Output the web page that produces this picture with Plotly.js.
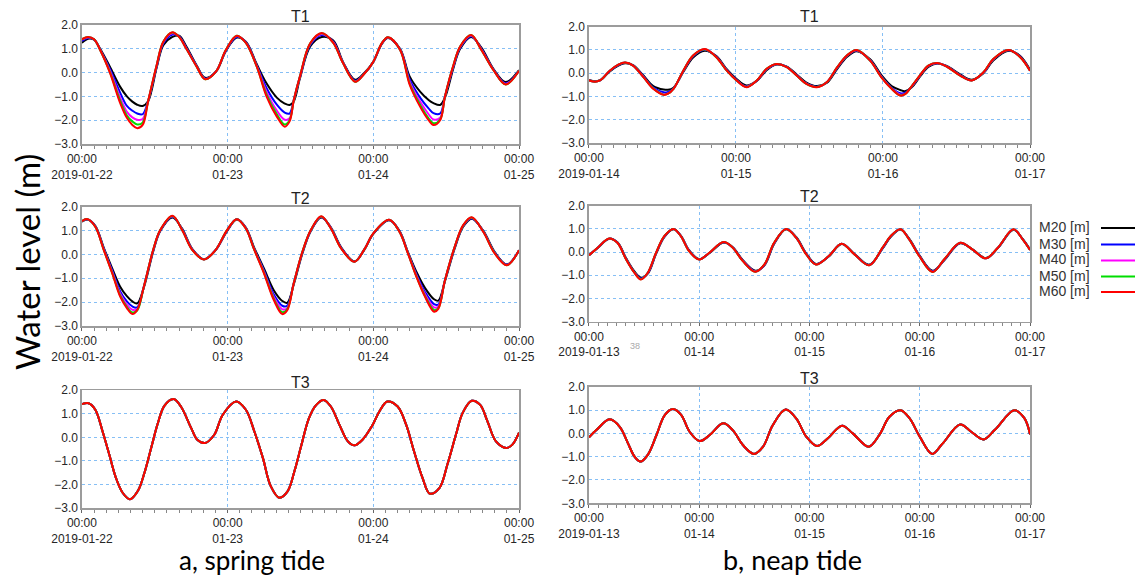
<!DOCTYPE html>
<html>
<head>
<meta charset="utf-8">
<script src="https://cdn.plot.ly/plotly-3.0.1.min.js"></script>
<style>html,body{margin:0;padding:0;background:#fff;}#chart{width:1135px;height:576px;}</style>
</head>
<body>
<div id="chart"></div>
<script>
// ---------- series / labels ----------
const seriesNames = ['M20 [m]', 'M30 [m]', 'M40 [m]', 'M50 [m]', 'M60 [m]'];
const seriesColors = ['#000000', '#0000ff', '#ff00ff', '#00dd00', '#ff0000'];
const panelTitles = ['T1', 'T1', 'T2', 'T2', 'T3', 'T3'];
const yTickVals = [-3, -2, -1, 0, 1, 2];

const springTickVals = [0, 24, 48, 72];
const springTickText = ['00:00<br>2019-01-22', '00:00<br>01-23', '00:00<br>01-24', '00:00<br>01-25'];
const neapT1TickVals = [0, 24, 48, 72];
const neapT1TickText = ['00:00<br>2019-01-14', '00:00<br>01-15', '00:00<br>01-16', '00:00<br>01-17'];
const neapTickVals = [0, 24, 48, 72, 96];
const neapTickText = ['00:00<br>2019-01-13', '00:00<br>01-14', '00:00<br>01-15', '00:00<br>01-16', '00:00<br>01-17'];

// ---------- a, spring tide : T1 (hours from 2019-01-22 00:00) ----------
const aT1_t   = [0,1,2,3,4.6,6.3,7.4,8.3,9.1,10.0,10.9,12.3,13.4,14.9,16.0,17.2,18.9,20.3,22.1,23.7,25.5,27.0,28.8,30.4,32.1,33.4,34.2,34.9,35.9,37.6,39.5,41.4,43.0,45.0,46.5,48.0,49.4,50.4,52.4,54.0,55.7,57.1,57.9,59.0,59.8,61.2,62.3,64.1,65.8,67.8,69.8,72.0];
const aT1_M20 = [1.25,1.42,1.38,1.00,0.25,-0.60,-1.00,-1.22,-1.35,-1.40,-1.20,0.20,1.15,1.50,1.55,1.10,0.30,-0.22,0.05,0.90,1.47,1.30,0.35,-0.45,-1.05,-1.30,-1.36,-1.20,-0.25,1.10,1.50,1.35,0.45,-0.30,-0.02,0.45,1.20,1.45,1.00,-0.17,-0.80,-1.15,-1.28,-1.36,-1.05,0.20,1.00,1.50,1.05,0.15,-0.40,0.10];
const aT1_M30 = [1.33,1.45,1.39,0.97,0.15,-0.85,-1.40,-1.60,-1.72,-1.75,-1.20,0.25,1.22,1.60,1.52,1.04,0.28,-0.25,0.05,0.92,1.50,1.28,0.30,-0.65,-1.35,-1.68,-1.72,-1.15,-0.20,1.16,1.58,1.30,0.43,-0.34,-0.04,0.45,1.22,1.47,0.98,-0.30,-1.05,-1.50,-1.70,-1.72,-1.00,0.26,1.04,1.53,1.00,0.13,-0.45,0.09];
const aT1_M40 = [1.38,1.49,1.40,0.96,0.08,-1.05,-1.65,-1.88,-1.98,-1.95,-1.20,0.29,1.28,1.65,1.51,1.01,0.26,-0.27,0.05,0.94,1.54,1.26,0.27,-0.80,-1.60,-1.98,-1.92,-1.15,-0.18,1.21,1.62,1.27,0.41,-0.37,-0.05,0.46,1.23,1.48,0.97,-0.40,-1.22,-1.75,-1.97,-1.90,-1.00,0.30,1.08,1.56,0.97,0.11,-0.48,0.08];
const aT1_M50 = [1.40,1.50,1.40,0.95,0.03,-1.18,-1.80,-2.05,-2.18,-2.10,-1.20,0.30,1.30,1.68,1.50,1.00,0.25,-0.28,0.05,0.95,1.55,1.25,0.25,-0.92,-1.75,-2.18,-2.00,-1.15,-0.17,1.23,1.65,1.25,0.40,-0.38,-0.05,0.46,1.24,1.49,0.96,-0.47,-1.35,-1.92,-2.13,-1.97,-1.00,0.32,1.10,1.58,0.95,0.10,-0.50,0.08];
const aT1_M60 = [1.40,1.50,1.40,0.95,0.00,-1.28,-1.90,-2.20,-2.34,-2.20,-1.20,0.30,1.30,1.70,1.50,1.00,0.25,-0.28,0.05,0.95,1.55,1.25,0.25,-1.00,-1.85,-2.27,-2.05,-1.15,-0.17,1.23,1.66,1.25,0.40,-0.38,-0.05,0.46,1.24,1.49,0.96,-0.52,-1.43,-2.00,-2.20,-2.00,-1.00,0.32,1.10,1.58,0.95,0.10,-0.50,0.08];

// ---------- a, spring tide : T2 ----------
const aT2_t   = [0,0.9,2.2,3.6,5.0,6.3,7.4,8.3,9.1,10.2,11.8,12.9,14.9,16.5,18.2,20.1,22.0,23.9,25.5,27.0,28.3,30.0,31.6,33.0,33.8,34.9,36.3,37.7,39.4,41.0,42.7,44.9,46.5,48.0,50.6,52.3,53.7,55.1,56.5,58.0,58.7,59.8,61.4,62.8,64.2,66.1,68.0,70.0,72.0];
const aT2_M20 = [1.37,1.46,1.20,0.28,-0.59,-1.35,-1.75,-1.97,-2.05,-1.38,0.18,0.98,1.55,1.08,0.22,-0.20,0.17,0.98,1.46,1.13,0.33,-0.60,-1.50,-1.95,-2.03,-1.25,0.03,0.98,1.55,1.14,0.30,-0.29,0.19,0.86,1.43,0.99,0.10,-0.73,-1.40,-1.88,-1.94,-1.12,0.25,1.16,1.50,1.00,0.10,-0.42,0.17];
const aT2_M30 = [1.38,1.47,1.18,0.24,-0.68,-1.55,-1.97,-2.18,-2.22,-1.35,0.22,1.00,1.58,1.06,0.20,-0.20,0.18,1.00,1.47,1.11,0.28,-0.68,-1.68,-2.15,-2.15,-1.20,0.07,1.00,1.57,1.12,0.28,-0.30,0.20,0.87,1.44,0.97,0.08,-0.83,-1.57,-2.08,-2.10,-1.08,0.29,1.19,1.52,0.98,0.08,-0.43,0.18];
const aT2_M40 = [1.39,1.48,1.17,0.21,-0.74,-1.65,-2.10,-2.32,-2.30,-1.35,0.24,1.01,1.60,1.04,0.19,-0.21,0.18,1.01,1.48,1.10,0.26,-0.74,-1.78,-2.30,-2.25,-1.20,0.09,1.01,1.58,1.11,0.26,-0.31,0.20,0.88,1.45,0.96,0.06,-0.88,-1.66,-2.22,-2.18,-1.08,0.31,1.21,1.54,0.97,0.06,-0.44,0.18];
const aT2_M50 = [1.40,1.48,1.16,0.19,-0.78,-1.72,-2.20,-2.43,-2.35,-1.35,0.25,1.02,1.61,1.03,0.18,-0.21,0.18,1.02,1.48,1.09,0.25,-0.77,-1.85,-2.42,-2.30,-1.20,0.10,1.02,1.59,1.10,0.25,-0.31,0.20,0.88,1.45,0.95,0.05,-0.92,-1.73,-2.33,-2.25,-1.08,0.32,1.22,1.55,0.96,0.05,-0.45,0.18];
const aT2_M60 = [1.40,1.48,1.16,0.18,-0.80,-1.77,-2.25,-2.50,-2.33,-1.35,0.25,1.02,1.62,1.02,0.18,-0.21,0.18,1.02,1.48,1.09,0.25,-0.80,-1.91,-2.50,-2.35,-1.20,0.10,1.02,1.60,1.09,0.25,-0.31,0.20,0.88,1.45,0.95,0.04,-0.94,-1.77,-2.40,-2.28,-1.08,0.32,1.23,1.56,0.95,0.04,-0.45,0.18];

// ---------- a, spring tide : T3 (all five runs coincide) ----------
const aT3_t     = [0,1.1,2.2,3.4,4.5,5.6,6.7,7.9,9.2,10.3,11.4,12.5,13.6,15.1,16.3,18.0,19.0,20.3,21.8,23.2,25.4,27.0,28.4,29.8,31.1,32.5,33.9,35.0,36.1,37.4,38.6,39.8,41.0,42.4,43.8,44.9,46.2,47.9,49.0,50.3,52.0,53.4,54.7,56.1,57.3,58.9,60.2,61.6,62.7,64.2,65.6,66.8,68.2,69.9,70.9,72.0];
const aT3_level = [1.41,1.45,1.17,0.25,-0.73,-1.72,-2.35,-2.63,-2.28,-1.50,-0.45,0.60,1.35,1.63,1.31,0.39,-0.10,-0.24,0.11,0.96,1.52,1.17,0.25,-0.87,-2.07,-2.56,-2.28,-1.44,-0.38,0.82,1.38,1.59,1.31,0.54,-0.17,-0.34,-0.10,0.54,1.10,1.52,1.31,0.54,-0.59,-1.72,-2.39,-2.14,-1.15,0.11,1.03,1.55,1.38,0.68,-0.17,-0.45,-0.31,0.20];

// ---------- b, neap tide : T1 (hours from 2019-01-14 00:00) ----------
const bT1_t   = [0,0.8,1.8,3.4,4.8,5.9,7.2,8.9,10.5,12.2,12.9,13.8,15.4,17.0,18.9,20.8,22.5,24.1,25.7,27.4,29.0,30.6,32.3,33.9,35.5,37.2,38.8,40.5,42.1,43.7,45.9,47.8,49.4,50.8,51.6,52.7,54.0,55.4,56.8,58.4,60.6,62.5,64.4,66.0,68.5,70.4,72.0];
const bT1_M20 = [-0.29,-0.34,-0.30,0.08,0.33,0.43,0.35,-0.10,-0.55,-0.70,-0.71,-0.62,0.05,0.68,0.97,0.74,0.17,-0.25,-0.53,-0.33,0.13,0.37,0.28,-0.05,-0.40,-0.55,-0.42,0.18,0.70,0.95,0.60,-0.10,-0.55,-0.72,-0.77,-0.60,-0.16,0.27,0.42,0.31,-0.05,-0.28,0.00,0.55,0.97,0.74,0.15];
const bT1_M30 = [-0.30,-0.35,-0.31,0.10,0.35,0.45,0.34,-0.14,-0.62,-0.82,-0.80,-0.65,0.09,0.73,1.01,0.71,0.13,-0.29,-0.57,-0.32,0.17,0.39,0.27,-0.08,-0.44,-0.58,-0.40,0.22,0.74,0.98,0.56,-0.16,-0.62,-0.86,-0.84,-0.57,-0.12,0.31,0.43,0.30,-0.08,-0.30,0.02,0.59,0.99,0.71,0.12];
const bT1_M40 = [-0.30,-0.36,-0.31,0.11,0.37,0.46,0.33,-0.16,-0.65,-0.90,-0.87,-0.67,0.10,0.75,1.03,0.70,0.12,-0.30,-0.58,-0.31,0.18,0.40,0.26,-0.09,-0.45,-0.59,-0.39,0.24,0.75,0.99,0.55,-0.18,-0.65,-0.92,-0.89,-0.56,-0.11,0.32,0.44,0.29,-0.09,-0.31,0.03,0.60,1.00,0.70,0.11];
const bT1_M50 = [-0.30,-0.36,-0.31,0.11,0.37,0.46,0.33,-0.17,-0.66,-0.92,-0.88,-0.67,0.11,0.76,1.03,0.69,0.11,-0.31,-0.59,-0.31,0.19,0.40,0.26,-0.10,-0.46,-0.59,-0.39,0.25,0.76,1.00,0.54,-0.19,-0.66,-0.95,-0.90,-0.55,-0.10,0.33,0.44,0.29,-0.10,-0.31,0.04,0.61,1.00,0.69,0.11];
const bT1_M60 = [-0.30,-0.36,-0.31,0.11,0.37,0.46,0.33,-0.17,-0.67,-0.93,-0.88,-0.67,0.11,0.76,1.04,0.69,0.11,-0.31,-0.60,-0.31,0.19,0.40,0.26,-0.10,-0.46,-0.60,-0.39,0.25,0.76,1.00,0.54,-0.20,-0.67,-0.96,-0.90,-0.55,-0.10,0.33,0.44,0.29,-0.10,-0.31,0.04,0.61,1.00,0.69,0.11];

// ---------- b, neap tide : T2 (hours from 2019-01-13 00:00) ----------
const bT2_t   = [0,1.9,4.4,6.2,8.1,9.9,11.3,12.8,14.6,16.4,18.4,20.0,21.8,24.0,26.2,29.3,31.3,33.5,36.2,38.2,40.3,42.9,45.1,47.3,49.4,52.2,55.0,57.8,61.0,63.9,65.7,67.8,69.7,71.9,74.8,77.3,80.8,83.5,86.4,89.0,92.4,94.4,96.0];
const bT2_M20 = [-0.14,0.18,0.57,0.42,-0.27,-0.83,-1.10,-0.93,-0.08,0.65,0.98,0.71,0.08,-0.30,-0.05,0.41,0.21,-0.35,-0.80,-0.57,0.35,0.98,0.65,-0.06,-0.51,-0.19,0.35,-0.08,-0.55,0.15,0.66,0.97,0.58,-0.13,-0.80,-0.36,0.38,0.12,-0.26,0.17,0.96,0.57,0.11];
const bT2_M30 = [-0.14,0.19,0.58,0.41,-0.30,-0.87,-1.14,-0.91,-0.05,0.67,0.99,0.70,0.06,-0.31,-0.04,0.42,0.20,-0.37,-0.83,-0.55,0.38,0.99,0.63,-0.08,-0.52,-0.18,0.36,-0.09,-0.56,0.17,0.68,0.98,0.56,-0.15,-0.83,-0.34,0.39,0.11,-0.27,0.18,0.97,0.56,0.10];
const bT2_M40 = [-0.14,0.19,0.59,0.40,-0.31,-0.88,-1.16,-0.90,-0.04,0.68,1.00,0.69,0.05,-0.32,-0.03,0.43,0.19,-0.38,-0.84,-0.54,0.39,1.00,0.62,-0.09,-0.53,-0.17,0.36,-0.10,-0.57,0.18,0.69,0.98,0.55,-0.16,-0.85,-0.33,0.40,0.11,-0.27,0.19,0.98,0.55,0.09];
const bT2_M50 = [-0.14,0.19,0.59,0.40,-0.32,-0.89,-1.17,-0.89,-0.03,0.69,1.00,0.69,0.04,-0.32,-0.03,0.43,0.19,-0.39,-0.85,-0.53,0.40,1.00,0.62,-0.10,-0.53,-0.17,0.36,-0.10,-0.57,0.19,0.69,0.98,0.55,-0.17,-0.86,-0.32,0.40,0.11,-0.27,0.19,0.98,0.55,0.09];
const bT2_M60 = [-0.14,0.19,0.59,0.40,-0.32,-0.89,-1.18,-0.89,-0.03,0.69,1.00,0.69,0.04,-0.32,-0.03,0.43,0.19,-0.39,-0.85,-0.53,0.40,1.00,0.62,-0.10,-0.53,-0.17,0.36,-0.10,-0.57,0.19,0.69,0.98,0.55,-0.17,-0.86,-0.32,0.40,0.11,-0.27,0.19,0.98,0.55,0.09];

// ---------- b, neap tide : T3 (all five runs coincide) ----------
const bT3_t     = [0,1.6,4.5,6.7,8.5,9.9,11.2,12.8,14.7,16.5,18.3,20.1,21.9,24.1,26.3,29.2,31.3,33.5,35.9,37.9,40.0,42.8,45.1,47.3,49.6,52.0,55.1,57.4,60.9,63.2,65.4,67.8,69.8,72.0,74.7,77.0,80.8,83.2,85.9,88.3,92.6,94.8,96.0];
const bT3_level = [-0.17,0.14,0.60,0.28,-0.43,-0.99,-1.21,-0.92,-0.07,0.78,1.04,0.78,0.07,-0.33,-0.07,0.43,0.14,-0.50,-0.88,-0.57,0.35,1.02,0.64,-0.14,-0.54,-0.21,0.33,0.00,-0.57,-0.07,0.71,0.99,0.64,-0.14,-0.88,-0.43,0.38,0.07,-0.26,0.14,0.99,0.64,-0.04];

// ---------- build ----------
const panels = [
  {t: aT1_t, s: [aT1_M20, aT1_M30, aT1_M40, aT1_M50, aT1_M60], tv: springTickVals, tt: springTickText, xd: [0.0722, 0.4573], yd: [0.750, 0.9566], ty: 16},
  {t: bT1_t, s: [bT1_M20, bT1_M30, bT1_M40, bT1_M50, bT1_M60], tv: neapT1TickVals, tt: neapT1TickText, xd: [0.5189, 0.9075], yd: [0.7517, 0.9536], ty: 16},
  {t: aT2_t, s: [aT2_M20, aT2_M30, aT2_M40, aT2_M50, aT2_M60], tv: springTickVals, tt: springTickText, xd: [0.0722, 0.4573], yd: [0.434, 0.6411], ty: 198},
  {t: bT2_t, s: [bT2_M20, bT2_M30, bT2_M40, bT2_M50, bT2_M60], tv: neapTickVals, tt: neapTickText, xd: [0.5189, 0.9075], yd: [0.4415, 0.6429], ty: 197},
  {t: aT3_t, s: [aT3_level, aT3_level, aT3_level, aT3_level, aT3_level], tv: springTickVals, tt: springTickText, xd: [0.0722, 0.4573], yd: [0.1180, 0.3225], ty: 382},
  {t: bT3_t, s: [bT3_level, bT3_level, bT3_level, bT3_level, bT3_level], tv: neapTickVals, tt: neapTickText, xd: [0.5189, 0.9075], yd: [0.1262, 0.3286], ty: 378}
];

const W = 1135, H = 576;
const tickFont = {family: 'Liberation Sans, Arial, sans-serif', size: 12, color: '#262626'};
const traces = [];
const layout = {
  width: W, height: H,
  margin: {l: 0, r: 0, t: 0, b: 0},
  paper_bgcolor: '#ffffff', plot_bgcolor: '#ffffff',
  showlegend: false,
  annotations: [], shapes: []
};

panels.forEach((p, i) => {
  const n = i + 1;
  const xa = 'x' + (n === 1 ? '' : n), ya = 'y' + (n === 1 ? '' : n);
  p.s.forEach((vals, k) => {
    traces.push({
      type: 'scatter', mode: 'lines', x: p.t, y: vals, xaxis: xa, yaxis: ya,
      name: seriesNames[k], line: {color: seriesColors[k], width: 2, shape: 'spline', smoothing: 1},
      hoverinfo: 'skip'
    });
  });
  const tmax = p.tv[p.tv.length - 1];
  layout['xaxis' + (n === 1 ? '' : n)] = {
    domain: p.xd, anchor: ya, range: [0, tmax], fixedrange: true,
    tickmode: 'array', tickvals: p.tv, ticktext: p.tt,
    ticks: 'outside', ticklen: 3, tickcolor: '#666', tickwidth: 1,
    minor: {ticks: 'outside', ticklen: 3, tick0: 0, dtick: 2, tickcolor: '#888', showgrid: false},
    showgrid: true, gridcolor: '#86bff5', griddash: 'dot', gridwidth: 1,
    showline: true, linecolor: '#9c9c9c', linewidth: 1.5, mirror: true,
    zeroline: false, tickfont: tickFont, tickangle: 0
  };
  layout['yaxis' + (n === 1 ? '' : n)] = {
    domain: p.yd, anchor: xa, range: [-3, 2], fixedrange: true,
    tickmode: 'array', tickvals: yTickVals, tickformat: '.1f',
    ticks: '', showgrid: true, gridcolor: '#86bff5', griddash: 'dot', gridwidth: 1,
    showline: true, linecolor: '#9c9c9c', linewidth: 1.5, mirror: true,
    zeroline: false, tickfont: tickFont
  };
  layout.annotations.push({
    text: panelTitles[i], xref: 'paper', yref: 'paper',
    x: (p.xd[0] + p.xd[1]) / 2, y: 1 - p.ty / H, xanchor: 'center', yanchor: 'middle',
    showarrow: false, font: {family: 'Liberation Sans, Arial, sans-serif', size: 16, color: '#222'}
  });
});

// y-axis title and panel captions
layout.annotations.push({
  text: 'Water level (m)', xref: 'paper', yref: 'paper', x: 27 / W, y: 1 - 262 / H,
  xanchor: 'center', yanchor: 'middle', textangle: -90, showarrow: false,
  font: {family: 'Lato, Open Sans, sans-serif', size: 33, color: '#000'}
});
layout.annotations.push({
  text: 'a, spring tide', xref: 'paper', yref: 'paper', x: 252 / W, y: 0,
  xanchor: 'center', yanchor: 'bottom', showarrow: false, borderpad: 0, borderwidth: 0,
  font: {family: 'Lato, Open Sans, sans-serif', size: 26, color: '#000'}
});
layout.annotations.push({
  text: 'b, neap tide', xref: 'paper', yref: 'paper', x: 792 / W, y: 0,
  xanchor: 'center', yanchor: 'bottom', showarrow: false, borderpad: 0, borderwidth: 0,
  font: {family: 'Lato, Open Sans, sans-serif', size: 27, color: '#000'}
});
layout.annotations.push({
  text: '38', xref: 'paper', yref: 'paper', x: 635 / W, y: 1 - 346 / H,
  xanchor: 'center', yanchor: 'middle', showarrow: false,
  font: {family: 'Liberation Sans, Arial, sans-serif', size: 9, color: '#aaaaaa'}
});

// legend (text left, line sample right)
const legendY = [227, 243.5, 259.5, 275.5, 291];
seriesNames.forEach((nm, k) => {
  layout.annotations.push({
    text: nm, xref: 'paper', yref: 'paper', x: 1037 / W, y: 1 - legendY[k] / H,
    xanchor: 'left', yanchor: 'middle', showarrow: false,
    font: {family: 'Liberation Sans, Arial, sans-serif', size: 14, color: '#333'}
  });
  layout.shapes.push({
    type: 'line', xref: 'paper', yref: 'paper', x0: 1101 / W, x1: 1.0,
    y0: 1 - (legendY[k] + 1) / H, y1: 1 - (legendY[k] + 1) / H,
    line: {color: seriesColors[k], width: 2}
  });
});

Plotly.newPlot('chart', traces, layout, {staticPlot: true, displayModeBar: false});
</script>
</body>
</html>
